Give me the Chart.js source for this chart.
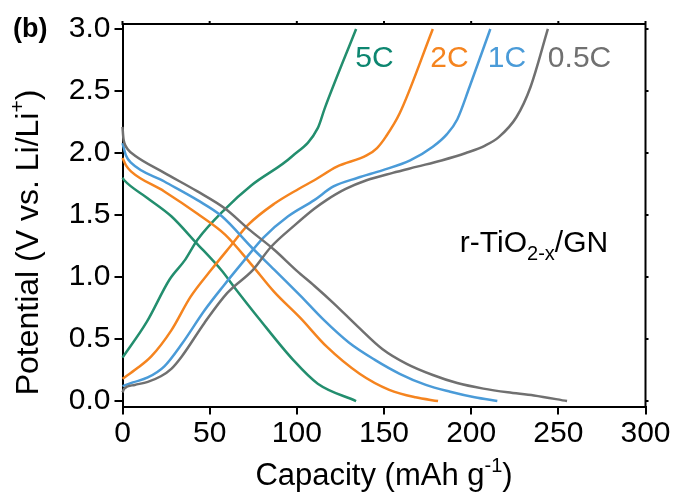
<!DOCTYPE html>
<html>
<head>
<meta charset="utf-8">
<script src="https://cdn.jsdelivr.net/npm/chart.js@4.4.0/dist/chart.umd.min.js"></script>
<style>
  body { margin: 0; background: #fff; }
</style>
</head>
<body>
<canvas id="capChart" width="677" height="496"></canvas>
<script>
// charge / discharge curves, capacity in mAh/g and potential in V
var cap5CDis = [0, 1, 14, 28, 42, 57, 64, 78, 98, 112, 134];
var pot5CDis = [1.80, 1.78, 1.64, 1.49, 1.28, 1.05, 0.92, 0.67, 0.33, 0.14, 0.0];
var cap5CChg = [0, 14, 27, 36, 43, 59, 74, 97, 112, 116, 134];
var pot5CChg = [0.35, 0.64, 0.98, 1.14, 1.30, 1.55, 1.74, 1.97, 2.20, 2.36, 3.0];

var cap2CDis = [0, 2, 5, 24, 43, 59, 74, 87, 102, 117, 136, 153, 168, 181];
var pot2CDis = [1.96, 1.90, 1.85, 1.69, 1.51, 1.34, 1.10, 0.88, 0.67, 0.44, 0.22, 0.09, 0.03, 0.0];
var cap2CChg = [0, 8, 16.5, 28, 39, 51, 62, 72, 87, 101, 110, 123, 140, 146, 151, 159, 178];
var pot2CChg = [0.18, 0.26, 0.36, 0.57, 0.84, 1.06, 1.25, 1.42, 1.59, 1.71, 1.78, 1.89, 1.98, 2.04, 2.13, 2.32, 3.0];

var cap1CDis = [0, 2, 5, 24, 43, 57, 74, 87, 102, 115, 130, 145, 159, 174, 188, 202, 215];
var pot1CDis = [2.08, 1.98, 1.92, 1.77, 1.62, 1.49, 1.24, 1.06, 0.85, 0.66, 0.47, 0.33, 0.22, 0.13, 0.075, 0.03, 0.0];
var cap1CChg = [0, 6, 14.5, 24, 34, 47, 58, 69, 81, 95, 110, 121, 135, 149, 165, 178, 186, 192, 199, 211];
var pot1CChg = [0.12, 0.15, 0.19, 0.28, 0.46, 0.73, 0.93, 1.12, 1.32, 1.49, 1.62, 1.73, 1.80, 1.86, 1.94, 2.05, 2.15, 2.27, 2.53, 3.0];

var cap05CDis = [0, 0.5, 1.1, 3, 7, 24, 43, 59, 72, 87, 100, 110, 121, 135, 149, 163, 178, 192, 207, 221, 236, 255];
var pot05CDis = [2.21, 2.12, 2.08, 2.03, 1.98, 1.84, 1.69, 1.55, 1.39, 1.22, 1.05, 0.93, 0.79, 0.60, 0.42, 0.30, 0.21, 0.145, 0.10, 0.07, 0.045, 0.0];
var cap05CChg = [0, 1, 7, 14.5, 22, 28, 34, 47, 60, 75, 85, 99, 110, 117, 128, 140, 155, 169, 183, 197, 208, 216, 226, 234, 244];
var pot05CChg = [0.07, 0.10, 0.13, 0.155, 0.20, 0.26, 0.36, 0.63, 0.87, 1.06, 1.24, 1.42, 1.55, 1.62, 1.71, 1.78, 1.84, 1.89, 1.94, 2.0, 2.06, 2.13, 2.29, 2.53, 3.0];

var xTicks = [0, 50, 100, 150, 200, 250, 300];
var yTicks = [0, 0.5, 1.0, 1.5, 2.0, 2.5, 3.0];

var rateLabels = ['5C', '2C', '1C', '0.5C'];
var rateLabelX = [133.5, 176.5, 209.5, 244];
var rateLabelY = 2.69;

var FONT = "'Liberation Sans', Arial, sans-serif";
var green = '#238e6e', orange = '#f5841f', blue = '#4a9bd8', gray = '#707070';

// tick labels in the original use a condensed face
function hasFont(name) {
  var c = document.createElement('canvas').getContext('2d');
  c.font = '40px monospace';
  var w1 = c.measureText('100.5abcCmwi').width;
  c.font = "40px '" + name + "', monospace";
  return c.measureText('100.5abcCmwi').width !== w1;
}
var tickFont = hasFont('Liberation Sans Narrow')
  ? { family: "'Liberation Sans Narrow', 'Liberation Sans', sans-serif", size: 33 }
  : { family: FONT, size: 30 };

var datasets = [];
function addCurve(cap, pot, color) {
  datasets.push({
    data: cap.map(function (c, i) { return { x: c, y: pot[i] }; }),
    borderColor: color,
    borderWidth: 2.5,
    pointRadius: 0,
    showLine: true,
    fill: false,
    clip: 6,
    cubicInterpolationMode: 'monotone'
  });
}
addCurve(cap05CDis, pot05CDis, gray);
addCurve(cap05CChg, pot05CChg, gray);
addCurve(cap1CDis, pot1CDis, blue);
addCurve(cap1CChg, pot1CChg, blue);
addCurve(cap2CDis, pot2CDis, orange);
addCurve(cap2CChg, pot2CChg, orange);
addCurve(cap5CDis, pot5CDis, green);
addCurve(cap5CChg, pot5CChg, green);

// text with super/subscript pieces: [text, 0 normal | 1 sup | -1 sub]
function drawRich(ctx, parts, x, y, size, color, align) {
  var w = 0;
  parts.forEach(function (p) {
    ctx.font = (p[1] ? Math.round(size * 0.66) : size) + 'px ' + FONT;
    w += ctx.measureText(p[0]).width;
  });
  var cx = align === 'center' ? x - w / 2 : x;
  ctx.fillStyle = color;
  ctx.textAlign = 'left';
  ctx.textBaseline = 'alphabetic';
  parts.forEach(function (p) {
    var s = p[1] ? Math.round(size * 0.66) : size;
    ctx.font = s + 'px ' + FONT;
    var dy = p[1] === 1 ? -size * 0.42 : (p[1] === -1 ? size * 0.28 : 0);
    ctx.fillText(p[0], cx, y + dy);
    cx += ctx.measureText(p[0]).width;
  });
}

var decorPlugin = {
  id: 'decor',
  afterDraw: function (chart) {
    var ctx = chart.ctx, a = chart.chartArea;
    var xs = chart.scales.x, ys = chart.scales.y;
    ctx.save();
    ctx.strokeStyle = '#000';
    ctx.lineWidth = 2;
    ctx.beginPath();
    ctx.moveTo(a.left - 1, a.top);
    ctx.lineTo(a.right, a.top);
    ctx.lineTo(a.right, a.bottom + 1);
    xTicks.forEach(function (v) {
      var px = xs.getPixelForValue(v);
      ctx.moveTo(px, a.top);
      ctx.lineTo(px, a.top - 3);
    });
    yTicks.forEach(function (v) {
      var py = ys.getPixelForValue(v);
      ctx.moveTo(a.right, py);
      ctx.lineTo(a.right + 3, py);
    });
    ctx.stroke();

    var labelColors = ['#0d8670', orange, blue, gray];
    rateLabels.forEach(function (t, i) {
      drawRich(ctx, [[t, 0]], xs.getPixelForValue(rateLabelX[i]), ys.getPixelForValue(rateLabelY), 30, labelColors[i], 'left');
    });
    drawRich(ctx, [['r-TiO', 0], ['2-x', -1], ['/GN', 0]],
      xs.getPixelForValue(193.5), ys.getPixelForValue(1.205), 30, '#000', 'left');

    drawRich(ctx, [['Capacity (mAh g', 0], ['-1', 1], [')', 0]],
      (a.left + a.right) / 2, 485, 31, '#000', 'center');

    ctx.translate(37.5, 242.5);
    ctx.rotate(-Math.PI / 2);
    drawRich(ctx, [['Potential (V vs. Li/Li', 0], ['+', 1], [')', 0]], 0, 0, 32, '#000', 'center');
    ctx.restore();

    ctx.save();
    ctx.font = 'bold 27px ' + FONT;
    ctx.fillStyle = '#000';
    ctx.textBaseline = 'alphabetic';
    ctx.fillText('(b)', 13, 37);
    ctx.restore();
  }
};

var ctx = document.getElementById('capChart').getContext('2d');
var chart = new Chart(ctx, {
  type: 'scatter',
  data: { datasets: datasets },
  options: {
    responsive: false,
    animation: false,
    layout: { padding: { top: 24, right: 31.5, left: 0, bottom: 0 } },
    plugins: { legend: { display: false }, tooltip: { enabled: false } },
    scales: {
      x: {
        type: 'linear',
        min: 0,
        max: 300,
        afterBuildTicks: function (s) { s.ticks = xTicks.map(function (v) { return { value: v }; }); },
        afterFit: function (s) { s.height = 89.5; },
        ticks: { color: '#000', font: tickFont, padding: 1, maxRotation: 0 },
        grid: { drawOnChartArea: false, color: '#000', lineWidth: 2, tickLength: 8 },
        border: { color: '#000', width: 2 }
      },
      y: {
        type: 'linear',
        min: -0.044,
        max: 3.04,
        afterBuildTicks: function (s) { s.ticks = yTicks.map(function (v) { return { value: v }; }); },
        afterFit: function (s) { s.width = 122.5; },
        ticks: {
          color: '#000', font: tickFont, padding: 4,
          callback: function (v) { return v.toFixed(1); }
        },
        grid: { drawOnChartArea: false, color: '#000', lineWidth: 2, tickLength: 8 },
        border: { color: '#000', width: 2 }
      }
    }
  },
  plugins: [decorPlugin]
});
</script>
</body>
</html>
